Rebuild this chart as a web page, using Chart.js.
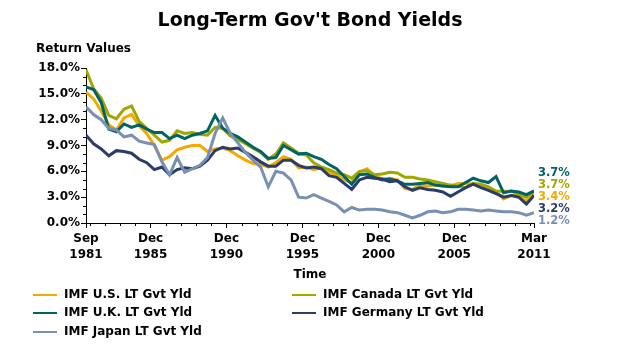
<!DOCTYPE html>
<html><head>
<meta charset="UTF-8">
<title>Long-Term Gov't Bond Yields</title>
<script src="https://cdn.jsdelivr.net/npm/chart.js"></script>
<style>
  html, body { margin: 0; padding: 0; background: #fff; }
  #wrap { width: 628px; height: 344px; }
</style>
</head><body>
<div id="wrap"><canvas id="chart" width="628" height="344"></canvas></div>
<script>
// one point every 6 months, Sep 1981 .. Mar 2011
const startYear = 1981 + 8 / 12;
const stepYears = 0.5;

const chartTitle = "Long-Term Gov't Bond Yields";
const yTitle = 'Return Values';
const xTitle = 'Time';

const seriesNames = ['IMF U.S. LT Gvt Yld', 'IMF Canada LT Gvt Yld', 'IMF U.K. LT Gvt Yld', 'IMF Germany LT Gvt Yld', 'IMF Japan LT Gvt Yld'];
const seriesColors = ['#f2aa00', '#a0a800', '#006464', '#2a3c6a', '#7890b2'];

const usYld = [15.2, 14.4, 13.0, 11.4, 10.8, 12.2, 12.6, 11.3, 10.4, 9.0,
  7.3, 7.7, 8.5, 8.8, 9.0, 9.0, 8.3, 8.6, 8.7, 8.4,
  7.8, 7.3, 6.9, 6.8, 6.5, 7.0, 7.7, 7.4, 6.4, 6.5,
  6.2, 6.4, 5.9, 5.6, 5.0, 4.7, 5.9, 6.3, 5.5, 5.1,
  5.2, 5.0, 4.0, 3.9, 4.4, 4.3, 4.4, 4.3, 4.3, 4.6,
  4.6, 4.5, 4.2, 4.0, 3.6, 2.8, 3.2, 3.2, 2.5, 3.4];
const canYld = [17.8, 15.6, 14.5, 12.5, 12.1, 13.2, 13.6, 11.8, 11.0, 10.2,
  9.4, 9.6, 10.7, 10.4, 10.5, 10.3, 10.2, 11.1, 11.0, 10.1,
  9.7, 9.2, 8.7, 8.2, 7.4, 8.0, 9.3, 8.7, 8.1, 7.9,
  7.0, 6.5, 6.2, 5.8, 5.6, 5.2, 6.0, 6.1, 5.6, 5.7,
  5.9, 5.8, 5.3, 5.3, 5.1, 5.0, 4.8, 4.6, 4.4, 4.3,
  4.1, 4.6, 4.5, 4.2, 3.7, 3.7, 3.7, 3.4, 3.0, 3.68];
const ukYld = [15.8, 15.5, 14.0, 10.9, 10.6, 11.5, 11.1, 11.4, 10.9, 10.5,
  10.5, 9.8, 10.2, 9.8, 10.2, 10.4, 10.7, 12.5, 11.0, 10.4,
  10.0, 9.4, 8.8, 8.3, 7.5, 7.6, 9.0, 8.5, 8.0, 8.1,
  7.7, 7.4, 6.8, 6.3, 5.4, 4.5, 5.6, 5.7, 5.3, 5.0,
  5.1, 4.9, 4.5, 4.5, 4.6, 4.7, 4.4, 4.3, 4.2, 4.2,
  4.7, 5.2, 4.9, 4.7, 5.4, 3.5, 3.7, 3.6, 3.3, 3.72];
const deYld = [10.2, 9.2, 8.6, 7.8, 8.4, 8.3, 8.1, 7.4, 7.0, 6.2,
  6.5, 5.6, 6.2, 6.4, 6.3, 6.6, 7.3, 8.4, 8.8, 8.6,
  8.7, 8.2, 7.7, 7.1, 6.6, 6.6, 7.3, 7.3, 6.7, 6.4,
  6.5, 6.3, 5.5, 5.3, 4.6, 3.9, 5.0, 5.3, 5.2, 5.1,
  4.8, 4.9, 4.2, 3.8, 4.1, 3.9, 3.8, 3.6, 3.1, 3.6,
  4.1, 4.5, 4.1, 3.8, 3.4, 3.0, 3.2, 3.0, 2.2, 3.2];
const jpYld = [13.5, 12.6, 12.0, 11.0, 10.8, 10.0, 10.2, 9.5, 9.3, 9.1,
  7.1, 5.6, 7.6, 5.9, 6.3, 6.7, 7.6, 10.4, 12.2, 10.4,
  9.3, 8.2, 7.3, 6.5, 4.2, 6.0, 5.8, 5.0, 3.0, 2.9,
  3.3, 2.9, 2.5, 2.1, 1.3, 1.8, 1.5, 1.6, 1.6, 1.5,
  1.3, 1.2, 0.9, 0.6, 0.9, 1.3, 1.4, 1.2, 1.3, 1.6,
  1.6, 1.5, 1.4, 1.5, 1.4, 1.3, 1.3, 1.2, 0.9, 1.2];
const seriesValues = [usYld, canYld, ukYld, deYld, jpYld];

// axis ticks
const xTickMonths = ['Sep', 'Dec', 'Dec', 'Dec', 'Dec', 'Dec', 'Mar'];
const xTickMonthNums = [9, 12, 12, 12, 12, 12, 3];
const xTickYears = [1981, 1985, 1990, 1995, 2000, 2005, 2011];
const yTickValues = [0, 3, 6, 9, 12, 15, 18];

const FONT = '"DejaVu Sans", Verdana, sans-serif';
const toYear = (yr, month) => yr + (month - 1) / 12;
const xTickValues = xTickYears.map((yr, i) => toYear(yr, xTickMonthNums[i]));
const endYear = startYear + (usYld.length - 1) * stepYears;

const decor = {
  id: 'decor',
  afterDraw(chart) {
    const { ctx, chartArea: area, scales: { x, y } } = chart;
    ctx.save();
    ctx.fillStyle = '#000';
    ctx.textBaseline = 'middle';

    ctx.font = `bold 19px ${FONT}`;
    ctx.textAlign = 'center';
    ctx.fillText(chartTitle, 310, 21);

    ctx.font = `bold 12px ${FONT}`;
    ctx.textAlign = 'left';
    ctx.fillText(yTitle, 36, 49);
    ctx.textAlign = 'center';
    ctx.fillText(xTitle, (area.left + area.right) / 2, 275);

    // minor ticks: every 1% and every December
    ctx.strokeStyle = '#000';
    ctx.lineWidth = 1;
    ctx.beginPath();
    for (let v = 0; v <= 18; v++) {
      if (v % 3 === 0) continue;
      const py = Math.round(y.getPixelForValue(v)) + 0.5;
      ctx.moveTo(area.left - 3, py);
      ctx.lineTo(area.left, py);
    }
    for (let yr = 1981; yr <= 2010; yr++) {
      if (xTickYears.includes(yr) && yr !== 1981) continue;
      const px = Math.round(x.getPixelForValue(toYear(yr, 12))) + 0.5;
      ctx.moveTo(px, area.bottom);
      ctx.lineTo(px, area.bottom + 3);
    }
    ctx.stroke();

    // last-value labels, pushed apart so they do not overlap
    const gap = 12;
    const items = chart.data.datasets.map((ds) => {
      const v = ds.data[ds.data.length - 1].y;
      return { v, color: ds.borderColor, target: y.getPixelForValue(v) };
    }).sort((a, b) => a.target - b.target);
    let groups = items.map((it) => ({ items: [it], sum: it.target }));
    const mid = (g) => g.sum / g.items.length;
    let merged = true;
    while (merged) {
      merged = false;
      for (let i = 0; i < groups.length - 1; i++) {
        const a = groups[i];
        const b = groups[i + 1];
        const aBottom = mid(a) + (a.items.length - 1) * gap / 2;
        const bTop = mid(b) - (b.items.length - 1) * gap / 2;
        if (bTop - aBottom < gap) {
          groups.splice(i, 2, { items: a.items.concat(b.items), sum: a.sum + b.sum });
          merged = true;
          break;
        }
      }
    }
    ctx.font = `bold 11.5px ${FONT}`;
    ctx.textAlign = 'left';
    groups.forEach((g) => {
      const top = mid(g) - (g.items.length - 1) * gap / 2;
      g.items.forEach((it, k) => {
        ctx.fillStyle = it.color;
        ctx.fillText(it.v.toFixed(1) + '%', area.right + 4, top + k * gap);
      });
    });

    // legend, two columns
    const rowsY = [295, 313, 332];
    const colsX = [33, 292];
    ctx.font = `bold 12px ${FONT}`;
    chart.data.datasets.forEach((ds, i) => {
      const lx = colsX[i % 2];
      const ly = rowsY[Math.floor(i / 2)];
      ctx.strokeStyle = ds.borderColor;
      ctx.lineWidth = 2;
      ctx.beginPath();
      ctx.moveTo(lx, ly);
      ctx.lineTo(lx + 24, ly);
      ctx.stroke();
      ctx.fillStyle = '#000';
      ctx.fillText(ds.label, lx + 31, ly);
    });
    ctx.restore();
  }
};

const ctx = document.getElementById('chart').getContext('2d');
new Chart(ctx, {
  type: 'line',
  data: {
    datasets: seriesNames.map((name, k) => ({
      label: name,
      data: seriesValues[k].map((v, i) => ({ x: startYear + i * stepYears, y: v })),
      borderColor: seriesColors[k],
      backgroundColor: seriesColors[k],
      borderWidth: 3,
      pointRadius: 0,
      tension: 0,
      order: seriesNames.length - k,
    })),
  },
  options: {
    responsive: false,
    animation: false,
    layout: { padding: { top: 68, right: 94, left: 0, bottom: 0 } },
    plugins: { legend: { display: false }, tooltip: { enabled: false } },
    scales: {
      x: {
        type: 'linear',
        min: startYear,
        max: endYear,
        afterBuildTicks: (s) => { s.ticks = xTickValues.map((v) => ({ value: v })); },
        afterFit: (s) => { s.height = 344 - 223; },
        grid: { drawOnChartArea: false, tickLength: 5, color: '#000' },
        border: { color: '#000', width: 1 },
        ticks: {
          autoSkip: false,
          maxRotation: 0,
          padding: 2,
          color: '#000',
          font: { family: FONT, size: 12, weight: 'bold', lineHeight: 1.4 },
          callback: (v, i) => [xTickMonths[i], String(xTickYears[i])],
        },
      },
      y: {
        min: 0,
        max: 18,
        afterBuildTicks: (s) => { s.ticks = yTickValues.map((v) => ({ value: v })); },
        afterFit: (s) => { s.width = 86; },
        grid: { drawOnChartArea: false, tickLength: 5, color: '#000' },
        border: { color: '#000', width: 1 },
        ticks: {
          padding: 1,
          color: '#000',
          font: { family: FONT, size: 12, weight: 'bold' },
          callback: (v) => v.toFixed(1) + '%',
        },
      },
    },
  },
  plugins: [decor],
});
</script>
</body></html>
